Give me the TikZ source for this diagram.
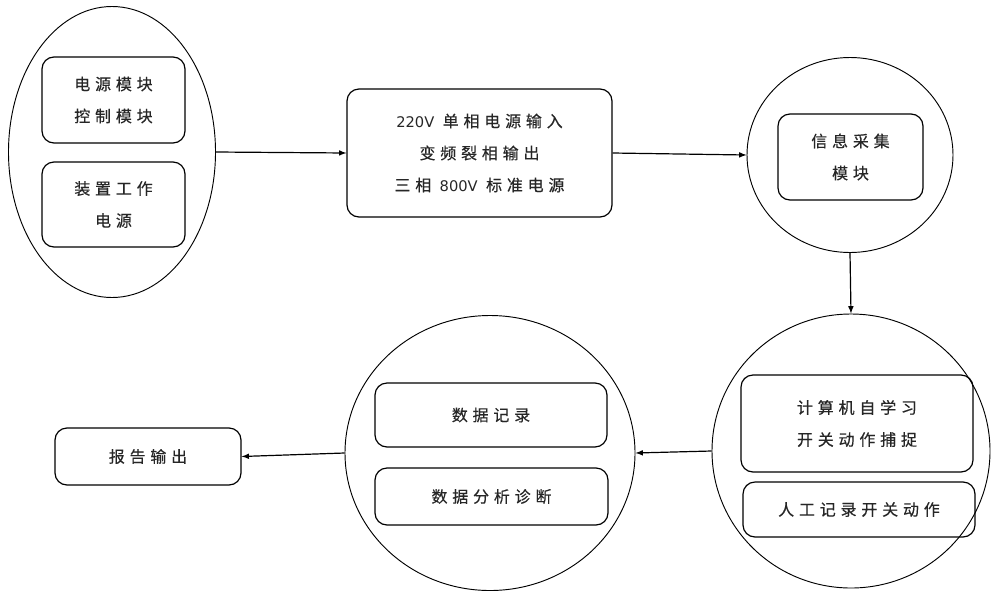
\documentclass[tikz,border=0pt]{standalone}
\usepackage{fontspec}
\setmainfont{Noto Sans CJK SC}[LetterSpace=30, FakeBold=0.4]
\newfontfamily\latin{DejaVu Sans}
\usetikzlibrary{shapes.geometric}

\begin{document}
\begin{tikzpicture}[
  x=0.75pt, y=-0.75pt,
  font=\fontsize{12pt}{24pt}\selectfont,
  every node/.style={text=black!85},
  blob/.style={draw, ellipse, line width=0.7pt, inner sep=0pt},
  box/.style={draw, rounded corners=9pt, line width=0.9pt, align=center, inner sep=0pt},
  link/.style={->, >=latex, line width=0.9pt}
]
\useasboundingbox (0,0) rectangle (992,593);

% the four rings
\node[blob, minimum width=155.25pt, minimum height=218.25pt] (power) at (112,152) {};
\node[blob, minimum width=154.5pt, minimum height=146.25pt] (collect) at (850,155) {};
\node[blob, minimum width=208.5pt, minimum height=205.5pt] (capture) at (851,451) {};
\node[blob, minimum width=217.5pt, minimum height=206.25pt] (data) at (490,453) {};

% boxes
\node[box, minimum width=107.25pt, minimum height=64.5pt] (ctrl) at (113.5,100) {电源模块\\控制模块};
\node[box, minimum width=107.25pt, minimum height=63.75pt] (work) at (113.5,204.5) {装置工作\\电源};
\node[box, minimum width=198.75pt, minimum height=96pt] (convert) at (479.5,153)
  {{\latin\fontsize{11pt}{24pt}\selectfont 220V} 单相电源输入\\变频裂相输出\\三相 {\latin\fontsize{11pt}{24pt}\selectfont 800V} 标准电源};
\node[box, minimum width=108.75pt, minimum height=64.5pt] (info) at (850.5,157) {信息采集\\模块};
\node[box, minimum width=174pt, minimum height=72.75pt] (learn) at (857,423.5) {计算机自学习\\开关动作捕捉};
\node[box, minimum width=174pt, minimum height=41.25pt] (manual) at (859,509.5) {人工记录开关动作};
\node[box, minimum width=174pt, minimum height=48pt] (record) at (491,415) {数据记录};
\node[box, minimum width=174.75pt, minimum height=42.75pt] (diag) at (491.5,496.5) {数据分析诊断};
\node[box, minimum width=139.5pt, minimum height=42.75pt] (report) at (148,456.5) {报告输出};

% flow
\draw[link] (power.east) -- (convert.west);
\draw[link] (convert.east) -- (collect.west);
\draw[link] (collect.south) -- (capture.north);
\draw[link] (capture.west) -- (data.east);
\draw[link] (data.west) -- (report.east);
\end{tikzpicture}
\end{document}
